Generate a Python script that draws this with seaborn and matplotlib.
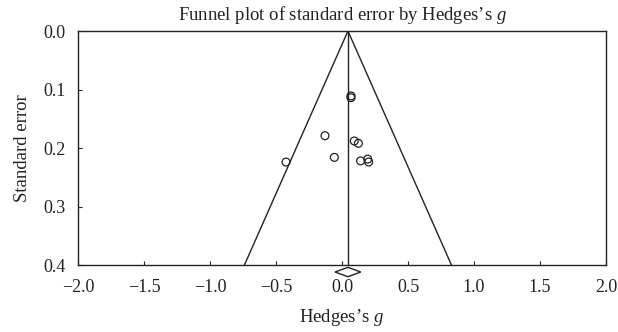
import numpy as np
import pandas as pd
import matplotlib
matplotlib.use("Agg")
import matplotlib.pyplot as plt
from matplotlib.patches import Polygon
import seaborn as sns

# Study effect sizes (Hedges's g) and their standard errors
hedges_g = [0.068, 0.068, -0.129, 0.093, 0.124, -0.424, -0.058, 0.141, 0.195, 0.202]
std_error = [0.111, 0.114, 0.179, 0.188, 0.192, 0.224, 0.216, 0.222, 0.219, 0.224]

# Pooled estimate and its confidence interval (summary diamond)
pooled_g = 0.045
pooled_ci = [-0.053, 0.142]

x_ticks = [-2.0, -1.5, -1.0, -0.5, 0.0, 0.5, 1.0, 1.5, 2.0]
y_ticks = [0.0, 0.1, 0.2, 0.3, 0.4]

sns.set_theme(style="white")
plt.rcParams["font.family"] = ["Liberation Serif", "DejaVu Serif"]
plt.rcParams["mathtext.fontset"] = "custom"
plt.rcParams["mathtext.it"] = "Liberation Serif:italic"
plt.rcParams["mathtext.rm"] = "Liberation Serif"

fig = plt.figure(figsize=(6.18, 3.32), dpi=100)
ax = fig.add_axes([0.1262, 0.2018, 0.8544, 0.7048])

df = pd.DataFrame({"g": hedges_g, "se": std_error})

# Pseudo 95% confidence funnel around the pooled estimate
se_max = y_ticks[-1]
funnel = pd.DataFrame({
    "g": [pooled_g - 1.96 * se_max, pooled_g, pooled_g + 1.96 * se_max],
    "se": [se_max, 0.0, se_max],
})
ax.plot(funnel["g"], funnel["se"], color="#222222", lw=1.0)
ax.plot([pooled_g, pooled_g], [0.0, se_max], color="#222222", lw=1.0)

sns.scatterplot(data=df, x="g", y="se", ax=ax, marker="o", s=32,
                facecolor="none", edgecolor="#222222", linewidth=0.9,
                legend=False, zorder=3)

# Summary diamond below the axis
dh = 0.008
yc = se_max + 0.012
diamond = Polygon([[pooled_ci[0], yc], [pooled_g, yc - dh],
                   [pooled_ci[1], yc], [pooled_g, yc + dh]],
                  closed=True, facecolor="white", edgecolor="#222222",
                  lw=1.0, clip_on=False, zorder=4)
ax.add_patch(diamond)

ax.set_xlim(-2.0, 2.0)
ax.set_ylim(0.4, 0.0)
ax.set_xticks(x_ticks)
ax.set_yticks(y_ticks)
ax.set_xticklabels([f"{v:.1f}".replace("-", "\u2212") for v in x_ticks])
ax.set_yticklabels([f"{v:.1f}" for v in y_ticks])
ax.tick_params(axis="both", direction="in", length=3, width=0.8,
               labelsize=13, colors="#222222")
ax.tick_params(axis="x", top=False, bottom=True, pad=10)
ax.tick_params(axis="y", left=True, right=False, pad=9)
for side in ax.spines.values():
    side.set_color("#222222")
    side.set_linewidth(1.0)

ax.set_xlabel("Hedges\u2019s $g$", fontsize=13.5, color="#222222", labelpad=8)
ax.set_ylabel("Standard error", fontsize=13.5, color="#222222", labelpad=9)
ax.set_title("Funnel plot of standard error by Hedges\u2019s $g$",
             fontsize=13.5, color="#222222", pad=8)

fig.savefig("out.png", dpi=100)
